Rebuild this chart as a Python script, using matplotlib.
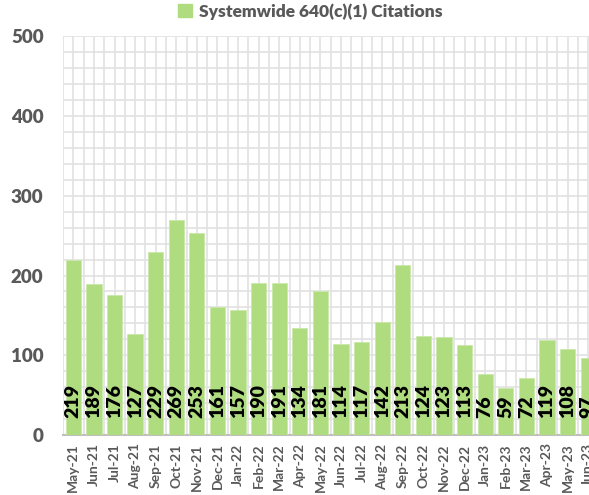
import matplotlib.pyplot as plt
from matplotlib.patches import Patch
from matplotlib.ticker import MultipleLocator

months = ["May-21", "Jun-21", "Jul-21", "Aug-21", "Sep-21", "Oct-21", "Nov-21",
          "Dec-21", "Jan-22", "Feb-22", "Mar-22", "Apr-22", "May-22", "Jun-22",
          "Jul-22", "Aug-22", "Sep-22", "Oct-22", "Nov-22", "Dec-22", "Jan-23",
          "Feb-23", "Mar-23", "Apr-23", "May-23", "Jun-23"]
citations = [219, 189, 176, 127, 229, 269, 253, 161, 157, 190, 191, 134, 181,
             114, 117, 142, 213, 124, 123, 113, 76, 59, 72, 119, 108, 97]
series_name = "Systemwide 640(c)(1) Citations"

bar_color = "#AEDC7F"
grid_color = "#E2E2E2"
text_gray = "#595959"

fig = plt.figure(figsize=(5.89, 4.95), dpi=100)
# plot area runs past the right edge, like the cropped original
ax = fig.add_axes([0.107, 0.121, 0.909, 0.806])

x = list(range(len(months)))
ax.bar(x, citations, width=0.74, color=bar_color, edgecolor="#C9E8AA",
       linewidth=0.6, zorder=3)

for xi, v in zip(x, citations):
    ax.text(xi, 21, str(v), rotation=90, ha="center", va="bottom",
            fontsize=14, fontweight="heavy", color="black", family="Lato",
            zorder=4)

ax.set_xlim(-0.5, len(months) - 0.5)
ax.set_ylim(0, 500)
ax.yaxis.set_major_locator(MultipleLocator(100))
ax.yaxis.set_minor_locator(MultipleLocator(20))
ax.set_xticks(x)
ax.set_xticklabels(months, rotation=90, fontsize=10, fontweight="bold",
                   color=text_gray, family="Lato")
ax.set_xticks([i - 0.5 for i in range(len(months) + 1)], minor=True)

ax.grid(True, which="both", color=grid_color, linewidth=1.2, zorder=0)
ax.tick_params(axis="both", which="both", length=0)
ax.tick_params(axis="x", pad=6)
ax.tick_params(axis="y", pad=14)
for lab in ax.get_yticklabels():
    lab.set_fontsize(13.5)
    lab.set_fontweight("heavy")
    lab.set_color(text_gray)
    lab.set_family("Lato")

for s in ["top", "right", "left"]:
    ax.spines[s].set_visible(False)
ax.spines["bottom"].set_color("#BFBFBF")
ax.spines["bottom"].set_linewidth(1.5)

fig.legend(handles=[Patch(color=bar_color, label=series_name)],
           loc="upper center", bbox_to_anchor=(0.527, 1.025), frameon=False,
           handlelength=0.8, handleheight=0.8, handletextpad=0.4,
           prop={"family": "Lato", "weight": "heavy", "size": 12.5},
           labelcolor=text_gray)

fig.savefig("out.png", dpi=100)
